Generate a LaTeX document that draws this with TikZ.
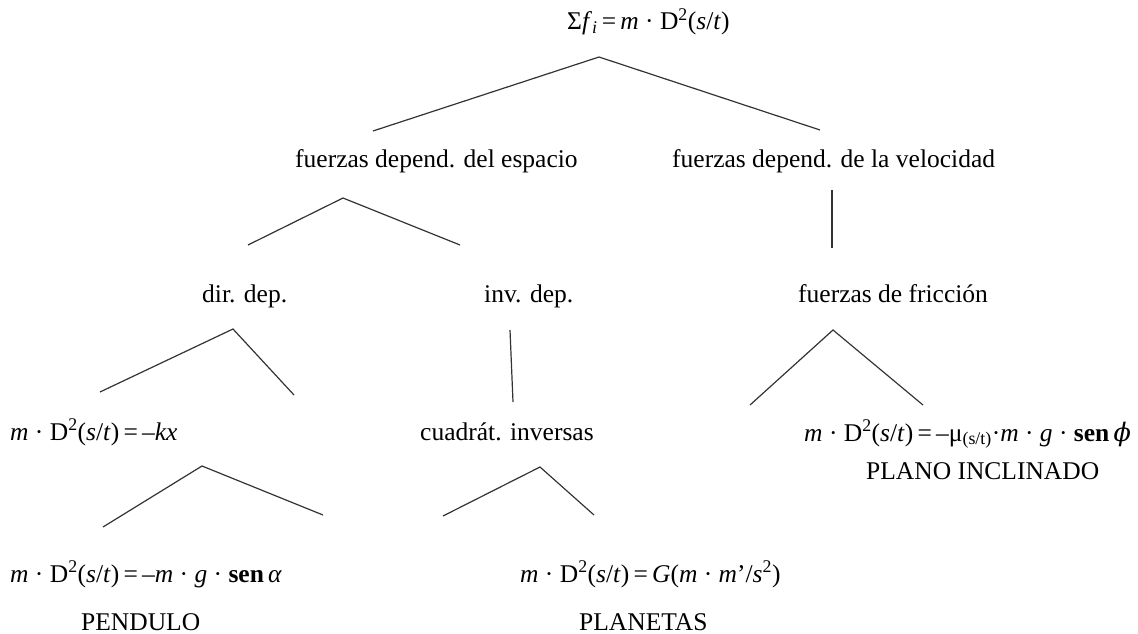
\documentclass[tikz,border=0pt]{standalone}
\usepackage{fontspec}
\setmainfont{Liberation Serif}
\newfontfamily\phifont{DejaVu Serif}
\begin{document}
\begin{tikzpicture}[x=1pt,y=-1pt,
  lbl/.style={anchor=base west, inner sep=0pt, font=\fontsize{25.5}{30}\selectfont},
  branch/.style={draw=black!80, line width=1.2pt}]
\useasboundingbox (0,0) rectangle (1138,634);
% texts
\node[lbl] (root) at (567,30) {Σ\textit{f}\textsubscript{\textit{i}}\,=\,\textit{m} · D\textsuperscript{2}(\textit{s}/\textit{t})};
\node[lbl] (esp) at (295,167) {fuerzas depend. del espacio};
\node[lbl] (vel) at (672,167) {fuerzas depend. de la velocidad};
\node[lbl] (dir) at (202,302) {dir. dep.};
\node[lbl] (inv) at (484,302) {inv. dep.};
\node[lbl] (fri) at (798,302) {fuerzas de fricción};
\node[lbl] (kx) at (10,440) {\textit{m} · D\textsuperscript{2}(\textit{s}/\textit{t})\,=\,–\textit{kx}};
\node[lbl] (cua) at (420,440) {cuadrát. inversas};
\node[lbl] (mu) at (804,441) {\textit{m} · D\textsuperscript{2}(\textit{s}/\textit{t})\,=\,–μ\textsubscript{(s/t)}·\textit{m} · \textit{g} · \textbf{sen}\,\textit{\phifont ϕ}};
\node[lbl] (pla) at (866,479) {PLANO INCLINADO};
\node[lbl] (pen) at (10,582) {\textit{m} · D\textsuperscript{2}(\textit{s}/\textit{t})\,=\,–\textit{m} · \textit{g} · \textbf{sen}\,\textit{α}};
\node[lbl] (grav) at (520,582) {\textit{m} · D\textsuperscript{2}(\textit{s}/\textit{t})\,=\,\textit{G}(\textit{m} · \textit{m}’/\textit{s}\textsuperscript{2})};
\node[lbl] (pendulo) at (81,630) {PENDULO};
\node[lbl] (planetas) at (579,630) {PLANETAS};
% branch points
\coordinate (t0) at (599,57);   \coordinate (t1) at (373,131);  \coordinate (t2) at (820,130);
\coordinate (e0) at (343,198);  \coordinate (e1) at (248,245);  \coordinate (e2) at (460,245);
\coordinate (v0) at (832,190);  \coordinate (v1) at (832,248);
\coordinate (d0) at (233,329);  \coordinate (d1) at (100,392);  \coordinate (d2) at (294,395);
\coordinate (i0) at (510,330);  \coordinate (i1) at (513,402);
\coordinate (f0) at (833,330);  \coordinate (f1) at (750,405);  \coordinate (f2) at (923,405);
\coordinate (k0) at (202,466);  \coordinate (k1) at (103,527);  \coordinate (k2) at (323,515);
\coordinate (c0) at (540,467);  \coordinate (c1) at (443,516);  \coordinate (c2) at (594,515);
\draw[branch] (t1) -- (t0) -- (t2);
\draw[branch] (e1) -- (e0) -- (e2);
\draw[branch] (v0) -- (v1);
\draw[branch] (d1) -- (d0) -- (d2);
\draw[branch] (i0) -- (i1);
\draw[branch] (f1) -- (f0) -- (f2);
\draw[branch] (k1) -- (k0) -- (k2);
\draw[branch] (c1) -- (c0) -- (c2);
\end{tikzpicture}
\end{document}
